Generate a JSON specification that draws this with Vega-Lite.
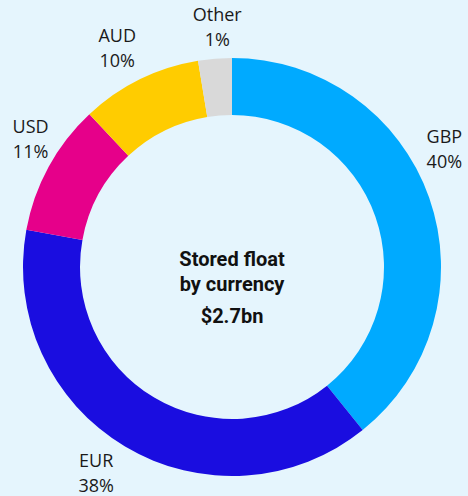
{
  "$schema": "https://vega.github.io/schema/vega-lite/v6.json",
  "autosize": {"type": "none"},
  "width": 464,
  "height": 458,
  "padding": {"left": 0, "top": 38, "right": 4, "bottom": 0},
  "background": "#e5f5fd",
  "config": {
    "view": {"stroke": null},
    "text": {"font": "Open Sans", "fontSize": 18, "lineHeight": 25, "color": "#1a1a1a", "align": "center", "baseline": "middle"}
  },
  "layer": [
    {
      "data": {"name": "shares"},
      "mark": {"type": "arc", "innerRadius": 152, "outerRadius": 209},
      "encoding": {
        "theta": {"field": "share", "type": "quantitative", "stack": true},
        "order": {"field": "idx", "type": "quantitative"},
        "color": {
          "field": "currency", "type": "nominal",
          "scale": {"domain": ["GBP", "EUR", "USD", "AUD", "Other"], "range": ["#00aaff", "#1a0de0", "#e6008a", "#ffcc00", "#d9d9d9"]},
          "legend": null
        }
      }
    },
    {
      "data": {"name": "shares"},
      "mark": {"type": "text", "radius": 242, "dx": -16, "dy": -49},
      "encoding": {
        "theta": {"field": "share", "type": "quantitative", "stack": true},
        "order": {"field": "idx", "type": "quantitative"},
        "text": {"condition": {"test": "datum.currency === 'GBP'", "field": "label"}, "value": ""}
      }
    },
    {
      "data": {"name": "shares"},
      "mark": {"type": "text", "radius": 242, "dx": -12, "dy": -12.5},
      "encoding": {
        "theta": {"field": "share", "type": "quantitative", "stack": true},
        "order": {"field": "idx", "type": "quantitative"},
        "text": {"condition": {"test": "datum.currency === 'EUR'", "field": "label"}, "value": ""}
      }
    },
    {
      "data": {"name": "shares"},
      "mark": {"type": "text", "radius": 242, "dx": 11, "dy": -23.5},
      "encoding": {
        "theta": {"field": "share", "type": "quantitative", "stack": true},
        "order": {"field": "idx", "type": "quantitative"},
        "text": {"condition": {"test": "datum.currency === 'USD'", "field": "label"}, "value": ""}
      }
    },
    {
      "data": {"name": "shares"},
      "mark": {"type": "text", "radius": 242, "dx": -8, "dy": -12.5},
      "encoding": {
        "theta": {"field": "share", "type": "quantitative", "stack": true},
        "order": {"field": "idx", "type": "quantitative"},
        "text": {"condition": {"test": "datum.currency === 'AUD'", "field": "label"}, "value": ""}
      }
    },
    {
      "data": {"name": "shares"},
      "mark": {"type": "text", "radius": 242, "dx": 5, "dy": -9.5},
      "encoding": {
        "theta": {"field": "share", "type": "quantitative", "stack": true},
        "order": {"field": "idx", "type": "quantitative"},
        "text": {"condition": {"test": "datum.currency === 'Other'", "field": "label"}, "value": ""}
      }
    },
    {
      "data": {"name": "centre"},
      "mark": {"type": "text", "font": "Roboto", "fontWeight": "bold", "fontSize": 20, "lineHeight": 25, "baseline": "alphabetic", "dy": -1, "color": "#111111"},
      "encoding": {"text": {"field": "title"}}
    },
    {
      "data": {"name": "centre"},
      "mark": {"type": "text", "font": "Roboto", "fontWeight": "bold", "fontSize": 20, "baseline": "alphabetic", "dy": 56, "color": "#111111"},
      "encoding": {"text": {"field": "total"}}
    }
  ],
  "datasets": {
    "shares": [
      {"currency": "GBP", "share": 39.25, "label": ["GBP", "40%"], "idx": 1},
      {"currency": "EUR", "share": 38.6, "label": ["EUR", "38%"], "idx": 2},
      {"currency": "USD", "share": 10.2, "label": ["USD", "11%"], "idx": 3},
      {"currency": "AUD", "share": 9.35, "label": ["AUD", "10%"], "idx": 4},
      {"currency": "Other", "share": 2.6, "label": ["Other", "1%"], "idx": 5}
    ],
    "centre": [
      {"title": ["Stored float", "by currency"], "total": "$2.7bn"}
    ]
  }
}
